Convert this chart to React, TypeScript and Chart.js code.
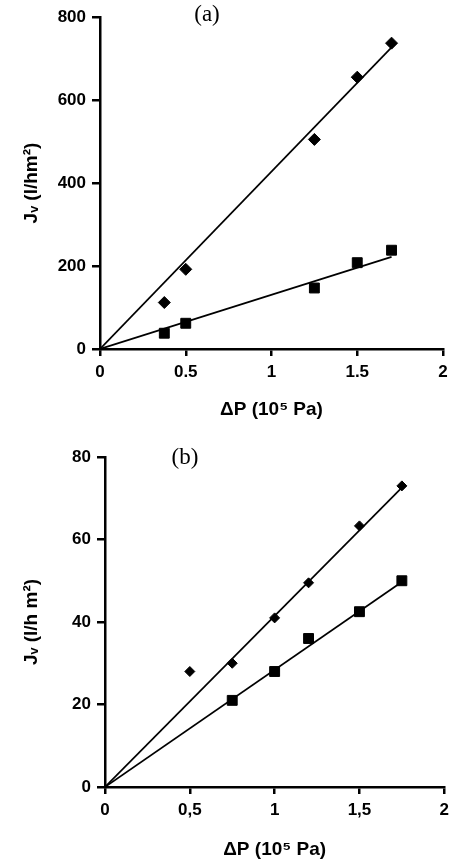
import { useEffect, useRef } from "react";
import { Chart, registerables } from "chart.js";

Chart.register(...registerables);

// panel (a)
const aDiamondX = [0.375, 0.5, 1.25, 1.5, 1.7];
const aDiamondY = [112, 192, 505, 655, 737];
const aSquareX = [0.375, 0.5, 1.25, 1.5, 1.7];
const aSquareY = [38, 62, 147, 208, 238];
const aFitX = [0, 1.7];
const aFitDiamondY = [0, 727];
const aFitSquareY = [0, 222];

// panel (b)
const bDiamondX = [0.5, 0.75, 1.0, 1.2, 1.5, 1.75];
const bDiamondY = [28, 30, 41, 49.5, 63.3, 73];
const bSquareX = [0.75, 1.0, 1.2, 1.5, 1.75];
const bSquareY = [21, 28, 36, 42.5, 50];
const bFitX = [0, 1.76];
const bFitDiamondY = [0, 73];
const bFitSquareY = [0, 50];

const FONT = "'Liberation Sans', Arial, sans-serif";

const pts = (xs: number[], ys: number[]) => xs.map((x, i) => ({ x, y: ys[i] }));

type Panel = {
  label: string;
  yMax: number;
  yStep: number;
  yTitle: string;
  comma: boolean;
  diamonds: { x: number; y: number }[];
  squares: { x: number; y: number }[];
  fitD: { x: number; y: number }[];
  fitS: { x: number; y: number }[];
  left: number;
  right: number;
  top: number;
  bottom: number;
  height: number;
  labelX: number;
  labelY: number;
  diamondSize: number;
};

function PanelChart({ p }: { p: Panel }) {
  const ref = useRef<HTMLCanvasElement | null>(null);

  useEffect(() => {
    if (!ref.current) return;
    const labelPlugin = {
      id: "panelLabel",
      afterDraw(chart: any) {
        const ctx = chart.ctx;
        ctx.save();
        ctx.fillStyle = "#000";
        ctx.font = "23px 'Liberation Serif', serif";
        ctx.textAlign = "center";
        ctx.textBaseline = "middle";
        ctx.fillText(p.label, p.labelX, p.labelY);
        ctx.restore();
      },
    };
    const lineDs = (data: any) => ({
      type: "line" as const,
      data,
      borderColor: "#000",
      borderWidth: 1.7,
      pointRadius: 0,
      fill: false,
    });
    const chart = new Chart(ref.current, {
      type: "scatter",
      data: {
        datasets: [
          lineDs(p.fitD),
          lineDs(p.fitS),
          {
            data: p.diamonds,
            pointStyle: "rectRot",
            pointRadius: p.diamondSize,
            backgroundColor: "#000",
            borderColor: "#000",
          },
          {
            data: p.squares,
            pointStyle: "rect",
            pointRadius: 7,
            backgroundColor: "#000",
            borderColor: "#000",
          },
        ] as any,
      },
      options: {
        animation: false,
        responsive: false,
        layout: { padding: { left: 0, right: 455 - p.right, top: p.top, bottom: 0 } },
        plugins: { legend: { display: false }, tooltip: { enabled: false } },
        scales: {
          x: {
            type: "linear",
            min: 0,
            max: 2,
            afterFit: (s: any) => {
              s.height = p.height - p.bottom;
            },
            border: { color: "#000", width: 2.5 },
            grid: { drawOnChartArea: false, color: "#000", lineWidth: 2.5, tickLength: 7 },
            ticks: {
              stepSize: 0.5,
              color: "#000",
              padding: 6,
              font: { family: FONT, size: 17, weight: "bold" },
              callback: (v: any) => {
                const s = String(v);
                return p.comma ? s.replace(".", ",") : s;
              },
            },
            title: {
              display: true,
              text: "ΔP (10⁵ Pa)",
              color: "#000",
              font: { family: FONT, size: 19, weight: "bold" },
              padding: { top: 4 },
            },
          },
          y: {
            type: "linear",
            min: 0,
            max: p.yMax,
            afterFit: (s: any) => {
              s.width = p.left;
            },
            border: { color: "#000", width: 2.5 },
            grid: { drawOnChartArea: false, color: "#000", lineWidth: 2.5, tickLength: 8 },
            ticks: {
              stepSize: p.yStep,
              color: "#000",
              padding: 6,
              font: { family: FONT, size: 17, weight: "bold" },
            },
            title: {
              display: true,
              text: p.yTitle,
              color: "#000",
              font: { family: FONT, size: 19, weight: "bold" },
              padding: { top: 20, bottom: 0 },
            },
          },
        },
      } as any,
      plugins: [labelPlugin],
    });
    return () => chart.destroy();
  }, [p]);

  return <canvas ref={ref} width={455} height={p.height} style={{ display: "block" }} />;
}

const panelA: Panel = {
  label: "(a)",
  yMax: 800,
  yStep: 200,
  yTitle: "Jᵥ (l/hm²)",
  comma: false,
  diamonds: pts(aDiamondX, aDiamondY),
  squares: pts(aSquareX, aSquareY),
  fitD: pts(aFitX, aFitDiamondY),
  fitS: pts(aFitX, aFitSquareY),
  left: 100,
  right: 443,
  top: 17,
  bottom: 349,
  height: 425,
  labelX: 207,
  labelY: 15,
  diamondSize: 6,
};

const panelB: Panel = {
  label: "(b)",
  yMax: 80,
  yStep: 20,
  yTitle: "Jᵥ (l/h m²)",
  comma: true,
  diamonds: pts(bDiamondX, bDiamondY),
  squares: pts(bSquareX, bSquareY),
  fitD: pts(bFitX, bFitDiamondY),
  fitS: pts(bFitX, bFitSquareY),
  left: 105,
  right: 445,
  top: 32,
  bottom: 362,
  height: 440,
  labelX: 185,
  labelY: 33,
  diamondSize: 5,
};

export default function App() {
  return (
    <div style={{ position: "absolute", left: 0, top: 0, width: 455, height: 865, background: "#fff" }}>
      <PanelChart p={panelA} />
      <PanelChart p={panelB} />
    </div>
  );
}
